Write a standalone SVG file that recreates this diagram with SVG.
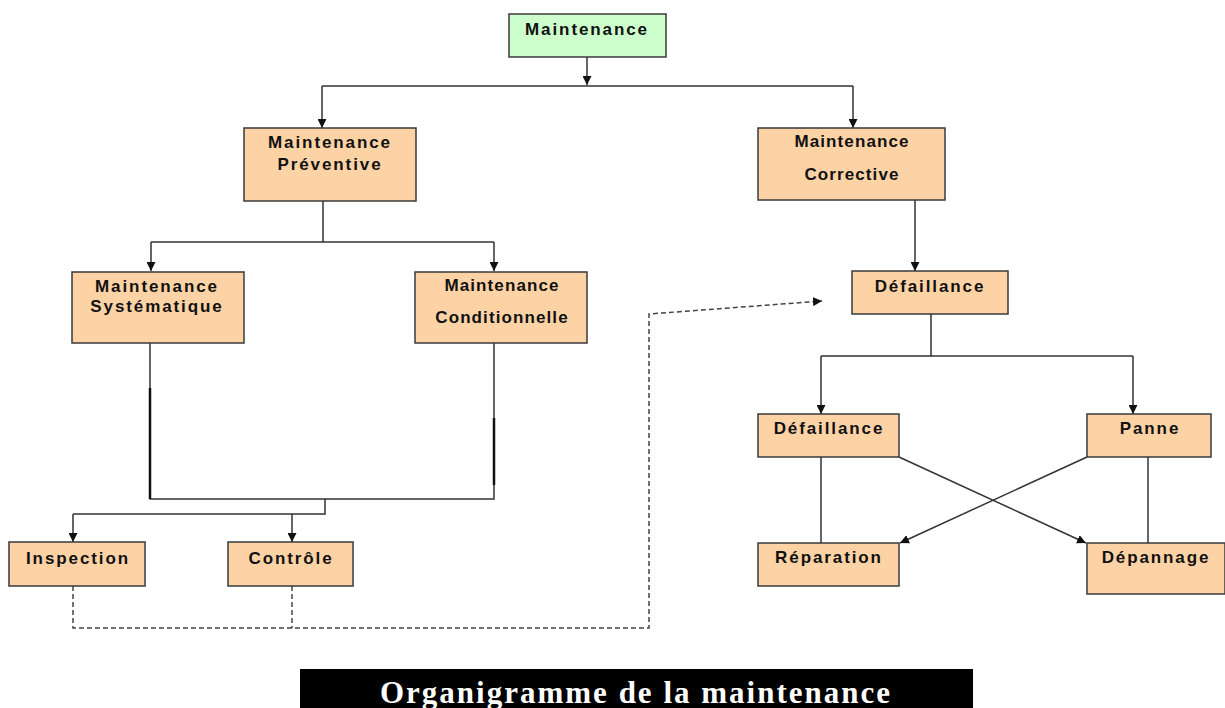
<svg xmlns="http://www.w3.org/2000/svg" width="1225" height="708" viewBox="0 0 1225 708">
  <defs>
    <marker id="arr" viewBox="0 0 10 10" refX="10" refY="5" markerWidth="9" markerHeight="9" markerUnits="userSpaceOnUse" orient="auto">
      <path d="M0,0 L10,5 L0,10 z" fill="#111"/>
    </marker>
    <style>
      .box { fill: #fdd3a6; stroke: #3a3a3a; stroke-width: 1.5; }
      .root { fill: #ccffcc; stroke: #3a3a3a; stroke-width: 1.5; }
      .lbl { font-family: "Liberation Sans", Arial, sans-serif; font-weight: bold; font-size: 17px; fill: #111; text-anchor: middle; letter-spacing: 1.9px; }
      .lbl2 { letter-spacing: 1.1px; }
      .ln { fill: none; stroke: #333; stroke-width: 1.5; }
      .dash { fill: none; stroke: #444; stroke-width: 1.5; stroke-dasharray: 5 3; }
      .title { font-family: "Liberation Serif", "Times New Roman", serif; font-weight: bold; font-size: 31px; fill: #fff; text-anchor: middle; letter-spacing: 2px; }
    </style>
  </defs>
  <rect width="1225" height="708" fill="#fff"/>

  <!-- connectors -->
  <g id="connectors">
    <path class="ln" d="M587,57 V85" marker-end="url(#arr)"/>
    <path class="ln" d="M322,86 H853"/>
    <path class="ln" d="M322,86 V128" marker-end="url(#arr)"/>
    <path class="ln" d="M853,86 V128" marker-end="url(#arr)"/>

    <path class="ln" d="M323,201 V242 H151"/>
    <path class="ln" d="M323,242 H494"/>
    <path class="ln" d="M151,242 V271" marker-end="url(#arr)"/>
    <path class="ln" d="M494,242 V271" marker-end="url(#arr)"/>

    <path class="ln" d="M150,343 V499 H494 V343"/>
    <path d="M150,388 V499" stroke="#111" stroke-width="2.5"/>
    <path d="M494,418 V485" stroke="#111" stroke-width="2.5"/>
    <path class="ln" d="M325,499 V514 H73"/>
    <path class="ln" d="M73,514 V542" marker-end="url(#arr)"/>
    <path class="ln" d="M292,514 V542" marker-end="url(#arr)"/>

    <path class="dash" d="M73,586 V628 H649 V314 L822,301" marker-end="url(#arr)"/>
    <path class="dash" d="M292,586 V628"/>

    <path class="ln" d="M915,200 V271" marker-end="url(#arr)"/>
    <path class="ln" d="M931,314 V356 H821"/>
    <path class="ln" d="M931,356 H1133"/>
    <path class="ln" d="M821,356 V414" marker-end="url(#arr)"/>
    <path class="ln" d="M1133,356 V414" marker-end="url(#arr)"/>

    <path class="ln" d="M821,457 V543"/>
    <path class="ln" d="M1148,457 V543"/>
    <path class="ln" d="M899,457 L1086,543" marker-end="url(#arr)"/>
    <path class="ln" d="M1087,457 L900,543" marker-end="url(#arr)"/>
  </g>

  <g id="n-maintenance">
    <rect class="root" x="509" y="14" width="157" height="43"/>
    <text class="lbl" x="587" y="35">Maintenance</text>
  </g>
  <g id="n-preventive">
    <rect class="box" x="244" y="128" width="172" height="73"/>
    <text class="lbl" x="330" y="148">Maintenance</text>
    <text class="lbl" x="330" y="170">Préventive</text>
  </g>
  <g id="n-corrective">
    <rect class="box" x="758" y="128" width="187" height="72"/>
    <text class="lbl lbl2" x="852" y="147">Maintenance</text>
    <text class="lbl lbl2" x="852" y="180">Corrective</text>
  </g>
  <g id="n-systematique">
    <rect class="box" x="72" y="272" width="172" height="71"/>
    <text class="lbl" x="157" y="292">Maintenance</text>
    <text class="lbl" x="157" y="312">Systématique</text>
  </g>
  <g id="n-conditionnelle">
    <rect class="box" x="415" y="272" width="172" height="71"/>
    <text class="lbl lbl2" x="502" y="291">Maintenance</text>
    <text class="lbl lbl2" x="502" y="323">Conditionnelle</text>
  </g>
  <g id="n-defaillance-top">
    <rect class="box" x="852" y="271" width="156" height="43"/>
    <text class="lbl" x="930" y="292">Défaillance</text>
  </g>
  <g id="n-inspection">
    <rect class="box" x="9" y="542" width="136" height="44"/>
    <text class="lbl" x="78" y="564">Inspection</text>
  </g>
  <g id="n-controle">
    <rect class="box" x="228" y="542" width="125" height="44"/>
    <text class="lbl" x="291" y="564">Contrôle</text>
  </g>
  <g id="n-defaillance">
    <rect class="box" x="758" y="414" width="141" height="43"/>
    <text class="lbl" x="829" y="434">Défaillance</text>
  </g>
  <g id="n-panne">
    <rect class="box" x="1087" y="414" width="124" height="43"/>
    <text class="lbl" x="1150" y="434">Panne</text>
  </g>
  <g id="n-reparation">
    <rect class="box" x="758" y="543" width="141" height="43"/>
    <text class="lbl" x="829" y="563">Réparation</text>
  </g>
  <g id="n-depannage">
    <rect class="box" x="1087" y="543" width="138" height="51"/>
    <text class="lbl" x="1156" y="563">Dépannage</text>
  </g>

  <g id="title">
    <rect x="300" y="669" width="673" height="42" fill="#000"/>
    <text class="title" x="636" y="703">Organigramme de la maintenance</text>
  </g>
</svg>
